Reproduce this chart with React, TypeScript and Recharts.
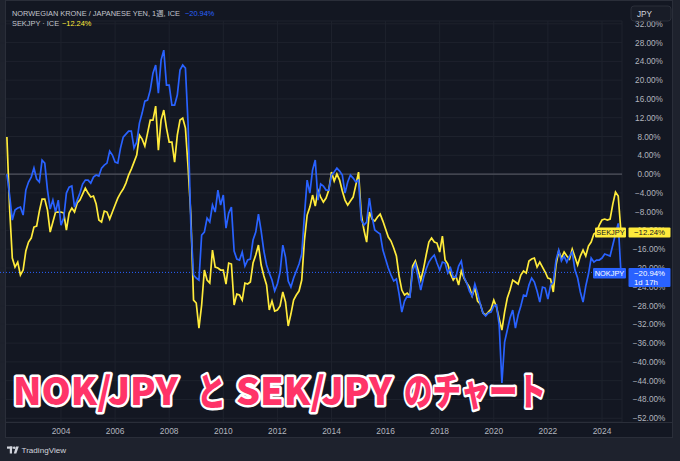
import React from "react";
import { LineChart, Line, XAxis, YAxis, CartesianGrid, ReferenceLine } from "recharts";

// decimal years (weekly closes sampled every ~5 weeks)
const dates = [
  2002.0, 2002.1, 2002.2, 2002.3, 2002.4, 2002.5, 2002.6, 2002.7, 2002.8, 2002.9,
  2003.0, 2003.1, 2003.2, 2003.3, 2003.4, 2003.5, 2003.6, 2003.7, 2003.8, 2003.9,
  2004.0, 2004.1, 2004.2, 2004.3, 2004.4, 2004.5, 2004.6, 2004.7, 2004.8, 2004.9,
  2005.0, 2005.1, 2005.2, 2005.3, 2005.4, 2005.5, 2005.6, 2005.7, 2005.8, 2005.9,
  2006.0, 2006.1, 2006.2, 2006.3, 2006.4, 2006.5, 2006.6, 2006.7, 2006.8, 2006.9,
  2007.0, 2007.1, 2007.2, 2007.3, 2007.4, 2007.5, 2007.6, 2007.7, 2007.8, 2007.9,
  2008.0, 2008.1, 2008.2, 2008.3, 2008.4, 2008.5, 2008.6, 2008.7, 2008.8, 2008.9,
  2009.0, 2009.1, 2009.2, 2009.3, 2009.4, 2009.5, 2009.6, 2009.7, 2009.8, 2009.9,
  2010.0, 2010.1, 2010.2, 2010.3, 2010.4, 2010.5, 2010.6, 2010.7, 2010.8, 2010.9,
  2011.0, 2011.1, 2011.2, 2011.3, 2011.4, 2011.5, 2011.6, 2011.7, 2011.8, 2011.9,
  2012.0, 2012.1, 2012.2, 2012.3, 2012.4, 2012.5, 2012.6, 2012.7, 2012.8, 2012.9,
  2013.0, 2013.1, 2013.2, 2013.3, 2013.4, 2013.5, 2013.6, 2013.7, 2013.8, 2013.9,
  2014.0, 2014.1, 2014.2, 2014.3, 2014.4, 2014.5, 2014.6, 2014.7, 2014.8, 2014.9,
  2015.0, 2015.1, 2015.2, 2015.3, 2015.4, 2015.5, 2015.6, 2015.7, 2015.8, 2015.9,
  2016.0, 2016.1, 2016.2, 2016.3, 2016.4, 2016.5, 2016.6, 2016.7, 2016.8, 2016.9,
  2017.0, 2017.1, 2017.2, 2017.3, 2017.4, 2017.5, 2017.6, 2017.7, 2017.8, 2017.9,
  2018.0, 2018.1, 2018.2, 2018.3, 2018.4, 2018.5, 2018.6, 2018.7, 2018.8, 2018.9,
  2019.0, 2019.1, 2019.2, 2019.3, 2019.4, 2019.5, 2019.6, 2019.7, 2019.8, 2019.9,
  2020.0, 2020.1, 2020.2, 2020.3, 2020.4, 2020.5, 2020.6, 2020.7, 2020.8, 2020.9,
  2021.0, 2021.1, 2021.2, 2021.3, 2021.4, 2021.5, 2021.6, 2021.7, 2021.8, 2021.9,
  2022.0, 2022.1, 2022.2, 2022.3, 2022.4, 2022.5, 2022.6, 2022.7, 2022.8, 2022.9,
  2023.0, 2023.1, 2023.2, 2023.3, 2023.4, 2023.5, 2023.6, 2023.7, 2023.8, 2023.9,
  2024.0, 2024.1, 2024.2, 2024.3, 2024.4, 2024.5, 2024.6, 2024.7,
];

// NOKJPY, % change from first bar
const nok = [
  0, -4.47, -9.79, -7.66, -7.24, -7.03, -8.73, -3.41, -1.7, -0.64,
  1.28, -1.06, -1.7, 2.98, 2.34, -3.41, -7.45, -5.54, -8.09, -5.54,
  -10.86, -9.37, -4.05, -2.77, -2.55, -7.03, -5.54, -4.05, -2.13, -1.28,
  -1.28, -1.92, -0.64, -0.21, -0.43, 1.28, 1.92, 2.34, 4.9, 4.05,
  2.55, 2.34, 5.54, 7.88, 8.52, 9.15, 9.15, 5.54, 6.81, 10.86,
  12.99, 15.54, 15.75, 17.88, 21.5, 23.21, 17.24, 24.27, 26.4, 18.95,
  18.95, 14.69, 14.69, 16.82, 22.14, 23.21, 22.57, 10.43, -10.86, -21.5,
  -22.14, -22.57, -12.99, -12.35, -9.37, -10.22, -6.6, -8.09, -3.41, -6.6,
  -4.47, -11.5, -8.3, -7.03, -16.39, -18.1, -18.31, -16.61, -19.59, -18.31,
  -18.1, -14.05, -12.35, -8.52, -12.14, -16.39, -19.37, -21.08, -22.57, -24.91,
  -23.42, -20.86, -15.12, -17.67, -22.78, -24.06, -22.14, -20.65, -19.16, -17.03,
  -8.73, -1.28, -4.05, 0.85, 2.98, -5.54, -2.13, -2.55, -3.41, -3.41,
  -0.21, 0.43, 1.28, 0.64, -0.21, -4.05, -1.7, -0.21, -0.85, -1.7,
  -1.28, -9.79, -10.86, -10.22, -5.11, -9.15, -11.92, -12.35, -12.77, -16.18,
  -18.1, -20.01, -21.5, -22.78, -22.35, -25.55, -29.38, -27.04, -25.97, -26.19,
  -20.44, -19.16, -21.93, -24.7, -22.14, -20.23, -18.74, -17.88, -17.24, -18.95,
  -20.44, -18.74, -18.95, -21.08, -20.01, -21.93, -21.93, -19.59, -18.52, -21.93,
  -23.21, -24.91, -25.97, -23.42, -25.34, -27.68, -29.59, -30.23, -29.59, -29.38,
  -28.1, -27.89, -32.15, -44.5, -35.77, -33.21, -30.66, -28.95, -32.79, -30.02,
  -28.1, -25.76, -25.97, -23.63, -22.14, -22.99, -24.91, -27.25, -24.06, -24.27,
  -26.61, -23.63, -22.99, -18.31, -16.18, -18.52, -17.46, -18.74, -17.46, -16.61,
  -20.44, -22.14, -25.12, -27.25, -23.85, -21.29, -17.88, -18.74, -18.31, -18.31,
  -17.88, -17.03, -17.24, -17.46, -15.12, -12.77, -10.5, -20.94,
];

// SEKJPY, % change from first bar
const sek = [
  7.88, -7.24, -17.88, -19.8, -18.74, -21.5, -20.44, -16.39, -14.48, -13.63,
  -11.28, -11.07, -7.88, -5.32, -5.32, -7.66, -12.35, -10.22, -8.09, -8.09,
  -8.09, -8.3, -11.92, -8.3, -7.24, -8.09, -6.17, -5.54, -4.26, -2.98,
  -4.05, -4.9, -4.68, -6.39, -9.79, -10.22, -7.88, -8.09, -9.58, -8.09,
  -6.6, -5.11, -4.05, -3.19, -1.92, -0.21, 1.06, 2.55, 4.05, 8.3,
  7.45, 5.96, 8.73, 11.5, 11.5, 14.48, 5.11, 11.5, 13.63, 9.79,
  6.81, 6.81, 2.55, 8.3, 11.5, 11.92, 9.79, 1.28, -8.73, -26.83,
  -27.46, -32.79, -27.89, -20.44, -22.57, -23.21, -16.18, -19.8, -20.01, -20.44,
  -20.44, -23.42, -18.95, -19.16, -27.89, -25.55, -25.76, -26.83, -23.21, -23.42,
  -22.99, -18.95, -17.24, -15.12, -19.37, -21.72, -23.63, -28.95, -27.04, -29.17,
  -28.95, -28.1, -25.12, -27.25, -32.36, -29.81, -26.83, -25.76, -24.91, -22.57,
  -14.05, -8.73, -7.03, -4.47, -6.81, -3.41, -4.9, -5.96, -5.11, -3.41,
  0.43, -1.49, 0, -1.28, -3.62, -5.54, -6.6, -5.75, -4.9, -2.34,
  0.43, -8.52, -11.92, -14.48, -8.09, -9.58, -10.01, -9.15, -8.52, -10.01,
  -11.71, -13.41, -14.26, -15.75, -17.46, -21.72, -24.7, -25.76, -25.34, -25.97,
  -19.59, -18.52, -20.44, -22.57, -20.23, -17.24, -14.48, -13.63, -14.48, -14.69,
  -16.61, -13.2, -18.31, -19.16, -21.29, -22.57, -21.72, -23.63, -20.65, -22.14,
  -23.21, -24.06, -25.97, -24.27, -27.04, -27.68, -29.59, -30.02, -29.38, -28.74,
  -26.83, -28.32, -30.87, -33.21, -29.38, -26.4, -24.7, -22.57, -22.99, -23.42,
  -21.5, -20.65, -21.08, -18.52, -18.1, -17.88, -19.8, -18.74, -19.8, -20.86,
  -22.14, -22.35, -25.12, -19.37, -16.39, -17.88, -16.61, -17.46, -18.1, -15.97,
  -17.67, -19.37, -17.46, -16.18, -17.46, -15.33, -14.48, -12.77, -12.35, -10.86,
  -9.79, -9.58, -9.79, -9.58, -6.39, -3.83, -4.68, -12.24,
];

const yearTicks = [2004, 2006, 2008, 2010, 2012, 2014, 2016, 2018, 2020, 2022, 2024];
const pctTicks = [32, 28, 24, 20, 16, 12, 8, 4, 0, -4, -8, -12, -16, -20, -24, -28, -32, -36, -40, -44, -48, -52];
const lastNok = -20.94;
const lastSek = -12.24;
const countdown = "1d 17h";

const rows = dates.map((t, i) => ({ t, nok: nok[i], sek: sek[i] }));

const BLUE = "#2962ff";
const YELLOW = "#ffeb3b";
const AXIS_TXT = "#b2b5be";
const FONT = "'Liberation Sans', Arial, 'Noto Sans CJK JP', sans-serif";
const TITLE_FONT = "'Noto Sans CJK JP', 'Noto Sans', sans-serif";
const X_DOMAIN: [number, number] = [2001.745, 2024.74];
const Y_DOMAIN: [number, number] = [-52.8, 32.6];
const MARGIN = { top: 21, right: 0, bottom: 0, left: 0 };

const fmtPct = (v: number) => (v < 0 ? "\u2212" + Math.abs(v).toFixed(2) : v.toFixed(2)) + "%";

const YTick = (props: any) => {
  const { y, payload } = props;
  return (
    <svg x={622} y={21} width={58} height={401} overflow="hidden">
      <text x={27} y={y - 21 + 3} textAnchor="middle" fill={AXIS_TXT} fontSize={8.2} fontFamily={FONT}>
        {fmtPct(payload.value)}
      </text>
    </svg>
  );
};

const XTick = (props: any) => {
  const { x, payload } = props;
  return (
    <text x={x} y={434} textAnchor="middle" fill={AXIS_TXT} fontSize={8.4} fontFamily={FONT}>
      {String(payload.value)}
    </text>
  );
};

const NoTick = () => null;

const SekLabel = (props: any) => {
  const vb = props.viewBox || {};
  const yc = vb.y ?? 0;
  return (
    <g fontFamily={FONT}>
      <rect x={595} y={yc - 4} width={31} height={10} fill={YELLOW} rx={1} />
      <text x={610.5} y={yc + 3.5} textAnchor="middle" fontSize={7.4} fill="#131722">SEKJPY</text>
      <rect x={628.5} y={yc - 4} width={42} height={10} fill={YELLOW} rx={1} />
      <text x={649.5} y={yc + 3.5} textAnchor="middle" fontSize={7.8} fill="#131722">{fmtPct(lastSek)}</text>
    </g>
  );
};

const NokLabel = (props: any) => {
  const vb = props.viewBox || {};
  const yc = vb.y ?? 0;
  return (
    <g fontFamily={FONT}>
      <rect x={593} y={yc - 4.5} width={33} height={10.5} fill={BLUE} rx={1} />
      <text x={609.5} y={yc + 3.5} textAnchor="middle" fontSize={7.4} fill="#ffffff">NOKJPY</text>
      <rect x={628.5} y={yc - 4.5} width={42} height={19} fill={BLUE} rx={1} />
      <text x={634} y={yc + 3.5} fontSize={7.8} fill="#ffffff">{fmtPct(lastNok)}</text>
      <text x={634} y={yc + 12.5} fontSize={7.8} fill="#ffffff">{countdown}</text>
    </g>
  );
};

const titleProps = {
  fontSize: 38,
  fontWeight: 900,
  fontFamily: TITLE_FONT,
  fill: "#ff3468",
  stroke: "#ffffff",
  strokeWidth: 5,
  strokeLinejoin: "round" as const,
  paintOrder: "stroke",
  lengthAdjust: "spacingAndGlyphs",
};

export default function App() {
  return (
    <div style={{ position: "absolute", left: 0, top: 0, width: 680, height: 461, background: "#1e222d", overflow: "hidden" }}>
      <style>{`body{margin:0;background:#1e222d}`}</style>
      <div style={{ position: "absolute", left: 5, top: 0, width: 668, height: 438, background: "#131722" }} />
      <div style={{ position: "absolute", left: 0, top: 0 }}>
        <LineChart width={680} height={461} data={rows} margin={MARGIN}>
          <CartesianGrid stroke="#1e222d" strokeWidth={1} />
          <XAxis
            type="number"
            dataKey="t"
            domain={X_DOMAIN}
            ticks={yearTicks}
            interval={0}
            allowDataOverflow
            height={39}
            axisLine={false}
            tickLine={false}
            tick={XTick}
          />
          <YAxis
            orientation="right"
            width={58}
            domain={Y_DOMAIN}
            ticks={pctTicks}
            interval={0}
            allowDataOverflow
            axisLine={false}
            tickLine={false}
            tick={YTick}
          />
          <ReferenceLine y={0} stroke="#50535e" strokeWidth={1.2} />
          <ReferenceLine y={lastNok} stroke={BLUE} strokeWidth={1} strokeDasharray="1 2" />
          <Line type="linear" dataKey="sek" stroke={YELLOW} strokeWidth={1.7} dot={false} isAnimationActive={false} />
          <Line type="linear" dataKey="nok" stroke={BLUE} strokeWidth={1.7} dot={false} isAnimationActive={false} />
        </LineChart>
      </div>
      {/* second layer with the same scales, so the last-value labels sit above the axis text */}
      <div style={{ position: "absolute", left: 0, top: 0 }}>
        <LineChart width={680} height={461} data={rows} margin={MARGIN}>
          <XAxis
            type="number"
            dataKey="t"
            domain={X_DOMAIN}
            ticks={yearTicks}
            allowDataOverflow
            height={39}
            axisLine={false}
            tickLine={false}
            tick={NoTick}
          />
          <YAxis
            orientation="right"
            width={58}
            domain={Y_DOMAIN}
            ticks={pctTicks}
            allowDataOverflow
            axisLine={false}
            tickLine={false}
            tick={NoTick}
          />
          <ReferenceLine y={lastSek} stroke="none" label={SekLabel} />
          <ReferenceLine y={lastNok} stroke="none" label={NokLabel} />
        </LineChart>
      </div>
      <svg width={680} height={461} style={{ position: "absolute", left: 0, top: 0, pointerEvents: "none" }}>
        <line x1={5} y1={422.5} x2={673} y2={422.5} stroke="#2a2e39" strokeWidth={1} />
        <rect x={5.5} y={0.5} width={667} height={437} fill="none" stroke="#2a2e39" strokeWidth={1} />
        <g fontFamily={FONT} fontSize={7.4}>
          <text x={12} y={16} fill="#c3c6ce">NORWEGIAN KRONE / JAPANESE YEN, 1週, ICE</text>
          <text x={185} y={16} fill={BLUE}>{fmtPct(lastNok)}</text>
          <text x={12} y={26} fill="#c3c6ce">SEKJPY · ICE</text>
          <text x={62} y={26} fill={YELLOW}>{fmtPct(lastSek)}</text>
        </g>
        <rect x={631} y={6} width={40} height={15} rx={3} fill="#181c27" stroke="#2a2e39" />
        <text x={637} y={16.5} fontFamily={FONT} fontSize={8.2} fill="#d1d4dc">JPY</text>
        <text x={13} y={405} textLength={165} {...titleProps}>NOK/JPY</text>
        <text x={197} y={405} textLength={29} {...titleProps}>と</text>
        <text x={236} y={405} textLength={156} {...titleProps}>SEK/JPY</text>
        <text x={404} y={405} textLength={142} {...titleProps}>のチャート</text>
        <g fill="#d1d4dc">
          <rect x={7} y={446.5} width={5.5} height={2.2} />
          <rect x={9.8} y={446.5} width={2.2} height={7} />
          <circle cx={14.2} cy={447.8} r={1.3} />
          <polygon points="16,446.5 18.8,446.5 16.3,453.5 13.8,453.5" />
        </g>
        <text x={21.5} y={453} fontFamily={FONT} fontSize={8.1} fill="#d1d4dc">TradingView</text>
      </svg>
    </div>
  );
}
